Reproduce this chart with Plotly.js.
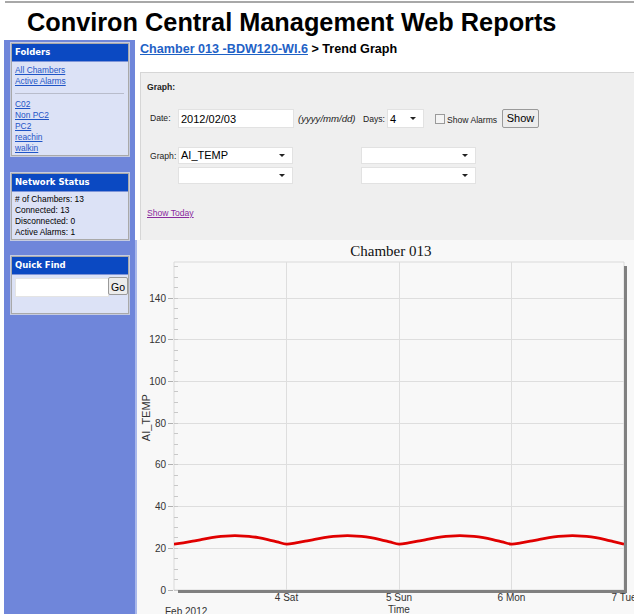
<!DOCTYPE html>
<html>
<head>
<meta charset="utf-8">
<script src="https://cdn.plot.ly/plotly-3.0.1.min.js"></script>
<style>
html,body{margin:0;padding:0;width:634px;height:614px;overflow:hidden;background:#fff;font-family:"Liberation Sans",Arial,sans-serif;}
.abs{position:absolute;}
#topline{left:5px;top:1px;width:629px;height:2px;background:#a8a8a8;}
#title{left:27px;top:6px;font-size:25.3px;font-weight:bold;color:#000;white-space:nowrap;line-height:32px;}
#side{left:4px;top:40px;width:131px;height:574px;background:#6f86da;}
.box{position:absolute;left:7px;width:116px;background:#dce2f6;border:1px solid #a9a9a9;box-shadow:0 0 0 1px #c5cbe0;}
.bh{height:17px;background:#0b49c2;color:#fff;font-weight:bold;font-size:8.5px;line-height:17px;padding-left:3px;font-family:"DejaVu Sans",Verdana,sans-serif;border-bottom:1px solid #7f95d8;}
.bl{position:absolute;left:3px;font-size:8.4px;line-height:11px;white-space:nowrap;}
.bl a{color:#1f55c6;text-decoration:underline;}
#crumb{left:140px;top:42px;font-size:12.6px;font-weight:bold;white-space:nowrap;}
#crumb a{color:#1f62c6;text-decoration:underline;}
#panel{left:140px;top:72px;width:500px;height:167px;background:#efefef;border:1px solid #d6d6d6;border-right:none;}
.lbl{position:absolute;font-size:8.6px;color:#222;white-space:nowrap;}
.inp{position:absolute;background:#fff;border:1px solid #e2e2e2;font-size:11px;line-height:18px;padding-left:2px;box-sizing:border-box;white-space:nowrap;}
.arr{position:absolute;right:7px;top:7px;width:0;height:0;border-left:3px solid transparent;border-right:3px solid transparent;border-top:3px solid #222;}
#chart{left:137px;top:240px;width:497px;height:400px;}
#chartbg{left:135px;top:240px;width:499px;height:374px;background:#f8f8f8;border-left:2px solid #a9b8ea;box-sizing:border-box;}
</style>
</head>
<body>
<div id="topline" class="abs"></div>
<div id="title" class="abs">Conviron Central Management Web Reports</div>

<div id="side" class="abs">
  <div class="box" style="top:3px;height:111px;">
    <div class="bh">Folders</div>
    <div class="bl" style="top:21px;"><a>All Chambers</a></div>
    <div class="bl" style="top:32px;"><a>Active Alarms</a></div>
    <div style="position:absolute;left:3px;top:49px;width:109px;height:1px;background:#b8bccb;"></div>
    <div class="bl" style="top:55px;"><a>C02</a></div>
    <div class="bl" style="top:66px;"><a>Non PC2</a></div>
    <div class="bl" style="top:77px;"><a>PC2</a></div>
    <div class="bl" style="top:88px;"><a>reachin</a></div>
    <div class="bl" style="top:99px;"><a>walkin</a></div>
  </div>
  <div class="box" style="top:133px;height:65px;">
    <div class="bh">Network Status</div>
    <div class="bl" style="top:20px;"># of Chambers: 13</div>
    <div class="bl" style="top:31px;">Connected: 13</div>
    <div class="bl" style="top:42px;">Disconnected: 0</div>
    <div class="bl" style="top:53px;">Active Alarms: 1</div>
  </div>
  <div class="box" style="top:216px;height:56px;">
    <div class="bh">Quick Find</div>
    <div style="position:absolute;left:3px;top:21px;width:92px;height:17px;background:#fff;border:1px solid #e4e4e4;"></div>
    <div style="position:absolute;left:96px;top:20px;width:20px;height:18px;background:#ececec;border:1px solid #9a9a9a;border-radius:2px;font-size:10.5px;line-height:18px;text-align:center;box-sizing:border-box;">Go</div>
  </div>
</div>

<div id="crumb" class="abs"><a>Chamber 013 -BDW120-WI.6</a> &gt; Trend Graph</div>

<div id="panel" class="abs">
  <div class="lbl" style="left:6px;top:9px;font-weight:bold;">Graph:</div>
  <div class="lbl" style="left:9px;top:40px;">Date:</div>
  <div class="inp" style="left:37px;top:36px;width:116px;height:19px;">2012/02/03</div>
  <div class="lbl" style="left:157px;top:40px;font-style:italic;font-size:9.6px;">(yyyy/mm/dd)</div>
  <div class="lbl" style="left:222px;top:41px;">Days:</div>
  <div class="inp" style="left:246px;top:36px;width:37px;height:19px;">4<div class="arr"></div></div>
  <div style="position:absolute;left:294px;top:41px;width:8px;height:8px;background:#f4f4f4;border:1px solid #9a9a9a;"></div>
  <div class="lbl" style="left:306px;top:42px;">Show Alarms</div>
  <div style="position:absolute;left:361px;top:36px;width:37px;height:19px;background:#ececec;border:1px solid #9a9a9a;border-radius:2px;font-size:11px;line-height:16px;text-align:center;box-sizing:border-box;">Show</div>
  <div class="lbl" style="left:9px;top:78px;">Graph:</div>
  <div class="inp" style="left:37px;top:74px;width:115px;height:17px;line-height:15px;">AI_TEMP<div class="arr" style="top:6px;"></div></div>
  <div class="inp" style="left:220px;top:74px;width:115px;height:17px;"><div class="arr" style="top:6px;"></div></div>
  <div class="inp" style="left:37px;top:94px;width:115px;height:17px;"><div class="arr" style="top:6px;"></div></div>
  <div class="inp" style="left:220px;top:94px;width:115px;height:17px;"><div class="arr" style="top:6px;"></div></div>
  <div class="lbl" style="left:6px;top:135px;color:#8a2a9e;text-decoration:underline;">Show Today</div>
</div>

<div id="chartbg" class="abs"></div>
<div id="chart" class="abs"></div>

<script>
// Sampled AI_TEMP readings (every 2 hours, Feb 3 - Feb 7 2012)
var times = [
 "2012-02-03 00:00","2012-02-03 02:00","2012-02-03 04:00","2012-02-03 06:00","2012-02-03 08:00","2012-02-03 10:00",
 "2012-02-03 12:00","2012-02-03 14:00","2012-02-03 16:00","2012-02-03 18:00","2012-02-03 20:00","2012-02-03 22:00",
 "2012-02-04 00:00","2012-02-04 02:00","2012-02-04 04:00","2012-02-04 06:00","2012-02-04 08:00","2012-02-04 10:00",
 "2012-02-04 12:00","2012-02-04 14:00","2012-02-04 16:00","2012-02-04 18:00","2012-02-04 20:00","2012-02-04 22:00",
 "2012-02-05 00:00","2012-02-05 02:00","2012-02-05 04:00","2012-02-05 06:00","2012-02-05 08:00","2012-02-05 10:00",
 "2012-02-05 12:00","2012-02-05 14:00","2012-02-05 16:00","2012-02-05 18:00","2012-02-05 20:00","2012-02-05 22:00",
 "2012-02-06 00:00","2012-02-06 02:00","2012-02-06 04:00","2012-02-06 06:00","2012-02-06 08:00","2012-02-06 10:00",
 "2012-02-06 12:00","2012-02-06 14:00","2012-02-06 16:00","2012-02-06 18:00","2012-02-06 20:00","2012-02-06 22:00",
 "2012-02-07 00:00"
];
var aiTemp = [
 22.0,22.6,23.4,24.3,25.1,25.7,26.0,26.0,25.7,25.1,24.2,23.1,
 22.0,22.6,23.4,24.3,25.1,25.7,26.0,26.0,25.7,25.1,24.2,23.1,
 22.0,22.6,23.4,24.3,25.1,25.7,26.0,26.0,25.7,25.1,24.2,23.1,
 22.0,22.6,23.4,24.3,25.1,25.7,26.0,26.0,25.7,25.1,24.2,23.1,
 22.0
];
var xTickVals = ["2012-02-04","2012-02-05","2012-02-06","2012-02-07"];
var xTickText = ["4 Sat","5 Sun","6 Mon","7 Tue"];
var yTickVals = [0,20,40,60,80,100,120,140];
var xRange = ["2012-02-03","2012-02-07"];
var yRange = [0,157.3];

var PW = 450, PH = 328;
var trace = {
  x: times, y: aiTemp, type: "scatter", mode: "lines",
  line: {color: "#e00000", width: 2.8, shape: "spline"},
  hoverinfo: "skip"
};
var layout = {
  width: 497, height: 400,
  margin: {l: 37, r: 10, t: 22, b: 50},
  paper_bgcolor: "rgba(0,0,0,0)",
  plot_bgcolor: "#f8f8f8",
  showlegend: false,
  font: {family: "Liberation Sans, Arial, sans-serif", size: 10, color: "#333"},
  title: {text: "Chamber 013", x: 0.482, xref: "paper", xanchor: "center", y: 1, yref: "paper", yanchor: "bottom", pad: {b: 6},
          font: {family: "Liberation Serif, Times New Roman, serif", size: 15, color: "#111"}},
  xaxis: {
    type: "date", range: xRange, tickvals: xTickVals, ticktext: xTickText,
    showgrid: true, gridcolor: "#dedede", gridwidth: 1, zeroline: false, showline: false,
    ticks: "", tickfont: {size: 10, color: "#333"}, fixedrange: true, ticklabeloverflow: "allow",
    title: {text: "Time", font: {size: 10, color: "#333"}, standoff: 3}
  },
  yaxis: {
    range: yRange, tickvals: yTickVals, showgrid: true, gridcolor: "#dedede", gridwidth: 1,
    zeroline: false, showline: false, ticks: "outside", ticklen: 5, tickcolor: "#b0b0b0",
    tickfont: {size: 10, color: "#333"}, fixedrange: true,
    minor: {dtick: 5, tick0: 0, ticks: "inside", ticklen: 4, tickcolor: "#c8c8c8", showgrid: false}
  },
  shapes: [
    {type: "rect", xref: "paper", yref: "paper", x0: 0, x1: 1, y0: 0, y1: 1, line: {color: "#dadada", width: 1}, layer: "below"},
    {type: "line", xref: "paper", yref: "paper", x0: 4/PW, x1: 1 + 3/PW, y0: -1.5/PH, y1: -1.5/PH, line: {color: "#808080", width: 3}},
    {type: "line", xref: "paper", yref: "paper", x0: 1 + 1.5/PW, x1: 1 + 1.5/PW, y0: -3/PH, y1: 1 - 4/PH, line: {color: "#808080", width: 3}}
  ],
  annotations: [
    {text: "AI_TEMP", xref: "paper", yref: "paper", x: -28/PW, y: 0.524, textangle: -90, showarrow: false,
     xanchor: "center", yanchor: "middle", font: {size: 11, color: "#333"}},
    {text: "Feb 2012", xref: "paper", yref: "paper", x: -11/PW, y: -14/PH, showarrow: false,
     xanchor: "left", yanchor: "top", font: {size: 10, color: "#333"}}
  ]
};
Plotly.newPlot("chart", [trace], layout, {staticPlot: true, displayModeBar: false});
</script>
</body>
</html>
